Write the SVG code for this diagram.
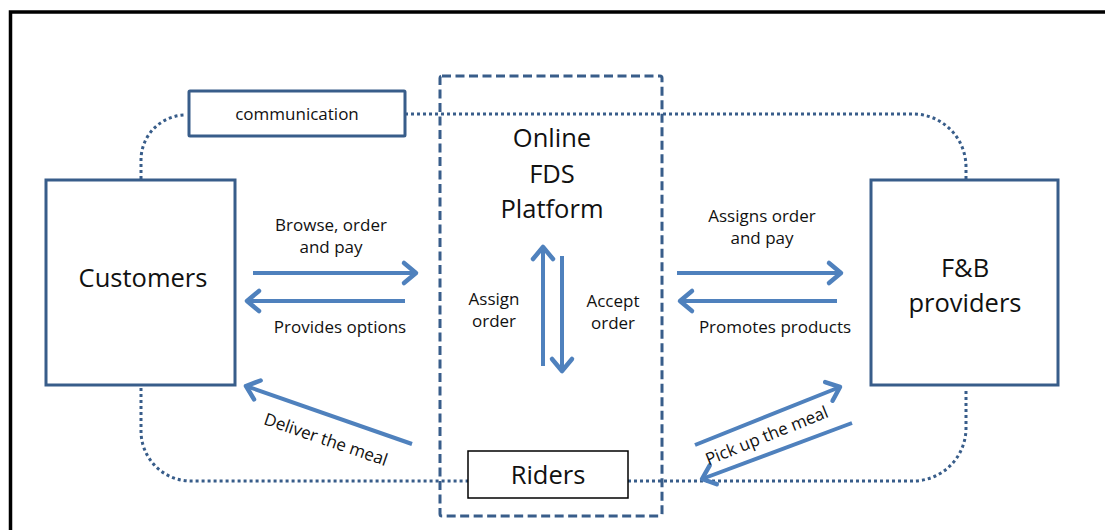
<svg xmlns="http://www.w3.org/2000/svg" width="1105" height="530" viewBox="0 0 1105 530">
<defs>
<style>
.box{fill:#fff;stroke:#385D8A;stroke-width:3}
.dot{fill:none;stroke:#385D8A;stroke-width:3;stroke-dasharray:3 3}
.arr{fill:none;stroke:#4F81BD;stroke-width:4;marker-end:url(#ah)}
.t{font-family:"Open Sans","Liberation Sans",sans-serif;fill:#111;text-anchor:middle}
.s{font-size:17px}
.l{font-size:25.5px}
</style>
<marker id="ah" markerUnits="userSpaceOnUse" markerWidth="30" markerHeight="30" viewBox="-15 -15 30 30" refX="0" refY="0" orient="auto" overflow="visible">
<path d="M-12,-10 L0,0 L-12,10" fill="none" stroke="#4F81BD" stroke-width="4.5" stroke-linejoin="round" stroke-linecap="round"/>
</marker>
</defs>
<rect x="0" y="0" width="1105" height="530" fill="#fff"/>
<rect x="10.5" y="12" width="1120" height="540" fill="none" stroke="#000" stroke-width="3.5"/>

<g id="connectors">
<path class="dot" d="M141,179 V160 A45,45 0 0 1 186,115"/>
<path class="dot" d="M405,114 H913 A53,53 0 0 1 966,167 V179"/>
<path class="dot" d="M141,388 V431 A50,50 0 0 0 191,481 H468"/>
<path class="dot" d="M628,481 H913 A53,53 0 0 0 966,428 V388"/>
<path class="arr" d="M253,273 H416"/>
<path class="arr" d="M405,301 H247"/>
<path class="arr" d="M677,273 H841"/>
<path class="arr" d="M837,301 H680"/>
<path class="arr" d="M543,366 V247"/>
<path class="arr" d="M562,256 V371"/>
<path class="arr" d="M412,444 L246,386"/>
<path class="arr" d="M695,445 L840,387"/>
<path class="arr" d="M852,423 L702,479"/>
</g>

<g id="platform">
<rect x="440" y="76" width="222" height="440" rx="2" fill="none" stroke="#385D8A" stroke-width="3" stroke-dasharray="9 4.5"/>
<text class="t l" x="552" y="147">Online</text>
<text class="t l" x="552" y="183">FDS</text>
<text class="t l" x="552" y="218">Platform</text>
</g>

<g id="communication">
<rect class="box" x="189" y="91" width="216" height="45" rx="1"/>
<text class="t s" x="297" y="120">communication</text>
</g>

<g id="customers">
<rect class="box" x="46" y="180" width="189" height="205"/>
<text class="t l" x="143" y="287">Customers</text>
</g>

<g id="fb">
<rect class="box" x="871" y="180" width="187" height="205"/>
<text class="t l" x="965" y="277">F&amp;B</text>
<text class="t l" x="965" y="312">providers</text>
</g>

<g id="riders">
<rect x="468" y="451" width="160" height="47" fill="#fff" stroke="#000" stroke-width="1.5"/>
<text class="t l" x="548" y="484">Riders</text>
</g>

<g id="labels">
<text class="t s" x="331" y="231">Browse, order</text>
<text class="t s" x="331" y="253">and pay</text>
<text class="t s" x="340" y="333">Provides options</text>
<text class="t s" x="494" y="305">Assign</text>
<text class="t s" x="494" y="327">order</text>
<text class="t s" x="613" y="307">Accept</text>
<text class="t s" x="613" y="329">order</text>
<text class="t s" x="762" y="222">Assigns order</text>
<text class="t s" x="762" y="244">and pay</text>
<text class="t s" x="775" y="333">Promotes products</text>
<text class="t s" x="324" y="445" transform="rotate(19 324 445)">Deliver the meal</text>
<text class="t s" x="769" y="441" transform="rotate(-22 769 441)">Pick up the meal</text>
</g>
</svg>
